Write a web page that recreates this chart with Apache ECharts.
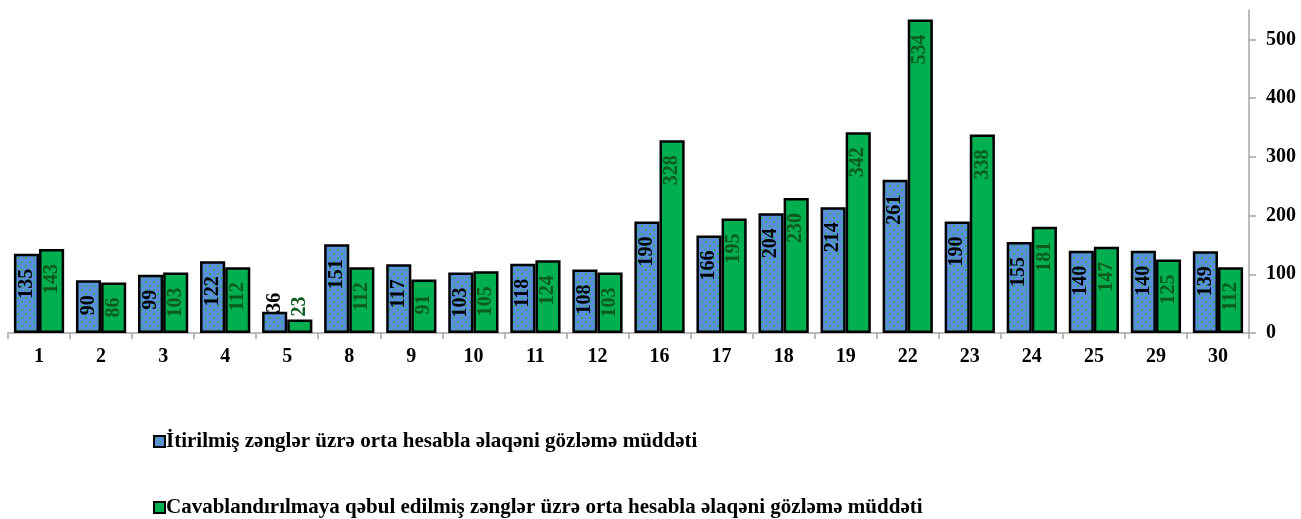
<!DOCTYPE html>
<html>
<head>
<meta charset="utf-8">
<script src="https://cdn.jsdelivr.net/npm/echarts@6/dist/echarts.min.js"></script>
<style>
  html, body { margin: 0; padding: 0; background: #fff; }
  #chart { width: 1301px; height: 519px; }
</style>
</head>
<body>
<div id="chart"></div>
<script>
// Days of the month
const categories = ['1', '2', '3', '4', '5', '8', '9', '10', '11', '12', '16', '17', '18', '19', '22', '23', '24', '25', '29', '30'];
// Average waiting time (seconds)
const lostCalls = [135, 90, 99, 122, 36, 151, 117, 103, 118, 108, 190, 166, 204, 214, 261, 190, 155, 140, 140, 139];
const acceptedCalls = [143, 86, 103, 112, 23, 112, 91, 105, 124, 103, 328, 195, 230, 342, 534, 338, 181, 147, 125, 112];
const seriesNames = [
  'İtirilmiş zənglər üzrə orta hesabla əlaqəni gözləmə müddəti',
  'Cavablandırılmaya qəbul edilmiş zənglər üzrə orta hesabla əlaqəni gözləmə müddəti'
];

const FONT = '"Liberation Serif", "Times New Roman", serif';

// Dotted blue fill
function dotPattern() {
  const c = document.createElement('canvas');
  c.width = 8; c.height = 8;
  const g = c.getContext('2d');
  g.fillStyle = '#5b8fdc';
  g.fillRect(0, 0, 8, 8);
  g.fillStyle = '#27b54e';
  g.beginPath(); g.arc(2, 2, 1.1, 0, Math.PI * 2); g.fill();
  g.beginPath(); g.arc(6, 6, 1.1, 0, Math.PI * 2); g.fill();
  return { image: c, repeat: 'repeat' };
}

// Small bars carry their label above the bar
const SMALL = 60;
function withLabels(values) {
  return values.map(v => v < SMALL
    ? { value: v, label: { position: 'top', align: 'left', distance: v < 30 ? 3 : -1 } }
    : v);
}

const baseLabel = {
  show: true,
  position: 'insideTop',
  rotate: 90,
  align: 'right',
  verticalAlign: 'middle',
  distance: 15,
  fontFamily: FONT,
  fontWeight: 'bold',
  fontSize: 20
};

const legendText = { fontFamily: FONT, fontWeight: 'bold', fontSize: 21, color: '#000', padding: [0, 0, 0, -4] };
function legendRow(name, top) {
  return {
    left: 148, top: top,
    itemWidth: 11, itemHeight: 11, itemGap: 0,
    icon: 'rect',
    textStyle: legendText,
    data: [name]
  };
}

const chart = echarts.init(document.getElementById('chart'), null, { renderer: 'canvas' });
chart.setOption({
  animation: false,
  backgroundColor: '#ffffff',
  grid: { left: 8, right: 52, top: 10, bottom: 186, containLabel: false },
  legend: [legendRow(seriesNames[0], 426), legendRow(seriesNames[1], 492)],
  xAxis: {
    type: 'category',
    data: categories,
    axisLine: { lineStyle: { color: '#a6a6a6', width: 1.5 } },
    axisTick: { show: true, alignWithLabel: false, length: 6, lineStyle: { color: '#a6a6a6', width: 1.5 } },
    axisLabel: { fontFamily: FONT, fontWeight: 'bold', fontSize: 20, color: '#000', margin: 14 }
  },
  yAxis: {
    type: 'value',
    position: 'right',
    min: 0,
    max: 550,
    interval: 100,
    splitLine: { show: false },
    axisLine: { show: true, lineStyle: { color: '#a6a6a6', width: 1.5 } },
    axisTick: { show: true, inside: false, length: 7, lineStyle: { color: '#a6a6a6', width: 1.5 } },
    axisLabel: {
      fontFamily: FONT, fontWeight: 'bold', fontSize: 20, color: '#000', margin: 17,
      showMaxLabel: false
    }
  },
  series: [
    {
      name: seriesNames[0],
      type: 'bar',
      data: withLabels(lostCalls),
      barGap: '0%',
      barCategoryGap: '19%',
      itemStyle: { color: dotPattern(), borderColor: '#000', borderWidth: 2.5 },
      label: Object.assign({}, baseLabel, { color: '#000' })
    },
    {
      name: seriesNames[1],
      type: 'bar',
      data: withLabels(acceptedCalls),
      barGap: '0%',
      barCategoryGap: '19%',
      itemStyle: { color: '#00b050', borderColor: '#000', borderWidth: 2.5 },
      label: Object.assign({}, baseLabel, { color: '#0c5a1c' })
    }
  ]
});
</script>
</body>
</html>
